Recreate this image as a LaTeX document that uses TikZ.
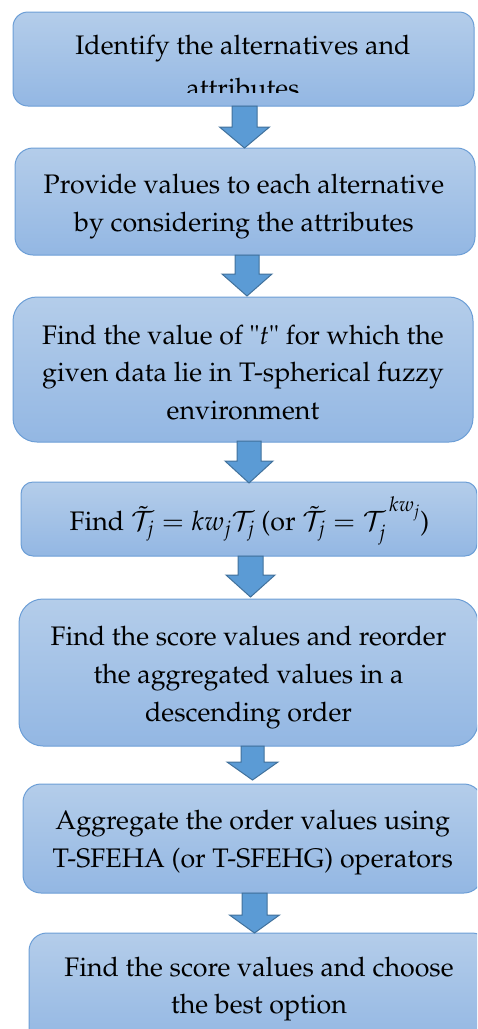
\documentclass[tikz,border=0pt]{standalone}
\usepackage[T1]{fontenc}
\usepackage{mathpazo}
\definecolor{boxtop}{RGB}{180,205,234}
\definecolor{boxbot}{RGB}{147,183,227}
\definecolor{boxline}{RGB}{108,158,214}
\definecolor{arrfill}{RGB}{91,155,213}
\definecolor{arrline}{RGB}{65,113,156}
\tikzset{
  box/.style={draw=boxline, line width=1pt, top color=boxtop, bottom color=boxbot,
    inner sep=0pt, outer sep=0pt},
  txt/.style={inner sep=0pt, outer sep=0pt, anchor=base,
    font=\fontsize{26.8}{37.5}\selectfont},
  blockarrow/.style={draw=arrline, line width=1pt, fill=arrfill, line join=miter}
}
\newcommand{\darrow}[7]{%
  \draw[blockarrow] ({#2-#6},#3) coordinate (#1) -- ({#2+#6},#3) -- ({#2+#6},#4) -- ({#2+#7},#4)
    -- (#2,#5) -- ({#2-#7},#4) -- ({#2-#6},#4) -- cycle;}
\begin{document}
\begin{tikzpicture}[x=1pt,y=-1pt]
\useasboundingbox (0,0) rectangle (477,1029);
\clip (0,0) rectangle (477,1029);
% boxes
\node[box, rounded corners=15pt, minimum width=461pt, minimum height=94pt] (b1) at (243.5,59) {};
\node[box, rounded corners=18pt, minimum width=460pt, minimum height=107pt] (b2) at (245,201.5) {};
\node[box, rounded corners=24pt, minimum width=460pt, minimum height=145pt] (b3) at (243,369.5) {};
\node[box, rounded corners=12pt, minimum width=456pt, minimum height=74pt] (b4) at (249,519) {};
\node[box, rounded corners=24pt, minimum width=459pt, minimum height=147pt] (b5) at (248.5,672.5) {};
\node[box, rounded corners=18pt, minimum width=459pt, minimum height=109pt] (b6) at (252.5,838.5) {};
\node[box, rounded corners=18pt, minimum width=461pt, minimum height=112pt] (b7) at (259.5,989) {};
% texts
\node[txt] (t1a) at (243,54) {Identify the alternatives and};
\begin{scope}
\clip (0,0) rectangle (477,92);
\node[txt] (t1b) at (243,97.5) {attributes};
\end{scope}
\node[txt] (t2a) at (244,193) {Provide values to each alternative};
\node[txt] (t2b) at (244,231) {by considering the attributes};
\node[txt] (t3a) at (243,344) {Find the value of \textquotedbl$t$\textquotedbl\ for which the};
\node[txt] (t3b) at (243,381) {given data lie in T-spherical fuzzy};
\node[txt] (t3c) at (243,419) {environment};
\node[txt] (t4a) at (249.5,530) {Find $\tilde{\mathcal{T}}_j = kw_j\mathcal{T}_j$ (or $\tilde{\mathcal{T}}_j = \mathcal{T}_j^{\,kw_j}$)};
\node[txt] (t5a) at (248.5,645) {Find the score values and reorder};
\node[txt] (t5b) at (248.5,683) {the aggregated values in a};
\node[txt] (t5c) at (248.5,721) {descending order};
\node[txt] (t6a) at (252.7,829) {Aggregate the order values using};
\node[txt] (t6b) at (252.7,867) {T-SFEHA (or T-SFEHG) operators};
\node[txt] (t7a) at (259,976) {Find the score values and choose};
\node[txt] (t7b) at (259,1013) {the best option};
% arrows
\darrow{a1}{244.5}{106}{127}{148}{12.5}{25}
\darrow{a2}{247}{255}{274}{296}{12}{25}
\darrow{a3}{249}{441}{461}{483}{12}{24}
\darrow{a4}{250.5}{556}{575}{597}{12.5}{24.5}
\darrow{a5}{252.5}{746}{762}{780}{11.5}{25.5}
\darrow{a6}{254.5}{893}{915}{933}{12.5}{25}
\end{tikzpicture}
\end{document}
